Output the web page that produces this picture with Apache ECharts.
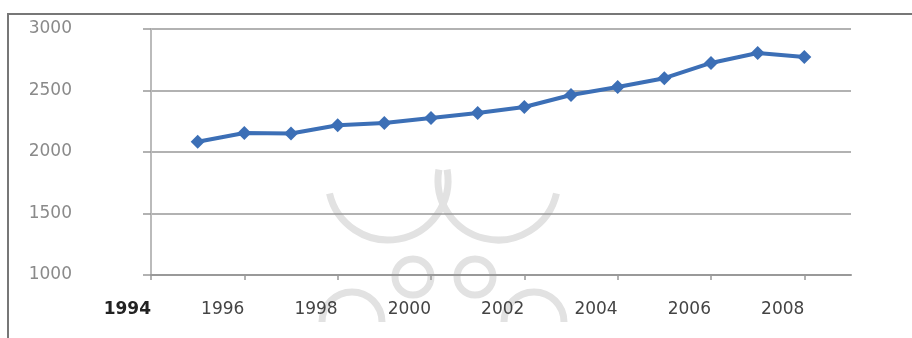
<!DOCTYPE html>
<html>
<head>
<meta charset="utf-8">
<script src="https://cdn.jsdelivr.net/npm/echarts@6/dist/echarts.min.js"></script>
<style>
  html, body { margin: 0; padding: 0; background: #fff; }
  #chart { width: 912px; height: 338px; }
</style>
</head>
<body>
<div id="chart"></div>
<script>
// values
const years = [1995, 1996, 1997, 1998, 1999, 2000, 2001, 2002, 2003, 2004, 2005, 2006, 2007, 2008];
const values = [2084, 2155, 2150, 2218, 2236, 2276, 2317, 2366, 2463, 2528, 2600, 2724, 2805, 2772];
const yearTicks = [1994, 1996, 1998, 2000, 2002, 2004, 2006, 2008];

const chart = echarts.init(document.getElementById('chart'));

const deg = d => d * Math.PI / 180;
const mark = { stroke: '#e2e2e2', fill: null, lineWidth: 7 };

// faint emblem behind the plot
const emblem = [
    { type: 'arc', shape: { cx: 388, cy: 180, r: 60, startAngle: deg(-10), endAngle: deg(167), clockwise: true } },
    { type: 'arc', shape: { cx: 498, cy: 180, r: 60, startAngle: deg(13), endAngle: deg(190), clockwise: true } },
    { type: 'circle', shape: { cx: 413, cy: 277, r: 18 } },
    { type: 'circle', shape: { cx: 475, cy: 277, r: 18 } },
    { type: 'arc', shape: { cx: 352, cy: 322, r: 30, startAngle: deg(180), endAngle: deg(360), clockwise: true } },
    { type: 'arc', shape: { cx: 534, cy: 322, r: 30, startAngle: deg(180), endAngle: deg(360), clockwise: true } }
].map(g => Object.assign(g, { z: -10, silent: true, style: mark }));

chart.setOption({
    animation: false,
    grid: { left: 151, right: 61, top: 29, bottom: 63 },
    xAxis: {
        type: 'value',
        min: 1994,
        max: 2009,
        interval: 2,
        splitLine: { show: false },
        axisLine: { lineStyle: { color: '#999', width: 2 } },
        axisTick: {
            customValues: yearTicks,
            length: 5,
            lineStyle: { color: '#999', width: 1.5 }
        },
        axisLabel: {
            customValues: yearTicks,
            align: 'right',
            margin: 26,
            color: '#444',
            fontFamily: 'DejaVu Sans',
            fontSize: 17,
            formatter: v => v === 1994 ? '{b|' + v + '}' : String(v),
            rich: { b: { fontWeight: 'bold', color: '#222', fontFamily: 'DejaVu Sans', fontSize: 17 } }
        }
    },
    yAxis: {
        type: 'value',
        min: 1000,
        max: 3000,
        interval: 500,
        axisLine: { show: true, lineStyle: { color: '#bbb', width: 2 } },
        axisTick: { show: true, length: 8, lineStyle: { color: '#999', width: 1.5 } },
        splitLine: { lineStyle: { color: '#999', width: 1.5 } },
        axisLabel: {
            margin: 79,
            color: '#8a8a8a',
            fontFamily: 'DejaVu Sans',
            fontSize: 17,
            formatter: v => String(v)
        }
    },
    graphic: emblem.concat([
        {
            type: 'polyline',
            shape: { points: [[8, 338], [8, 14], [912, 14]] },
            style: { stroke: '#777', lineWidth: 2, fill: null }
        }
    ]),
    series: [{
        type: 'line',
        data: years.map((y, i) => [y, values[i]]),
        symbol: 'diamond',
        symbolSize: 14,
        lineStyle: { color: '#3c6fb6', width: 4 },
        itemStyle: { color: '#3c6fb6' }
    }]
});
</script>
</body>
</html>
